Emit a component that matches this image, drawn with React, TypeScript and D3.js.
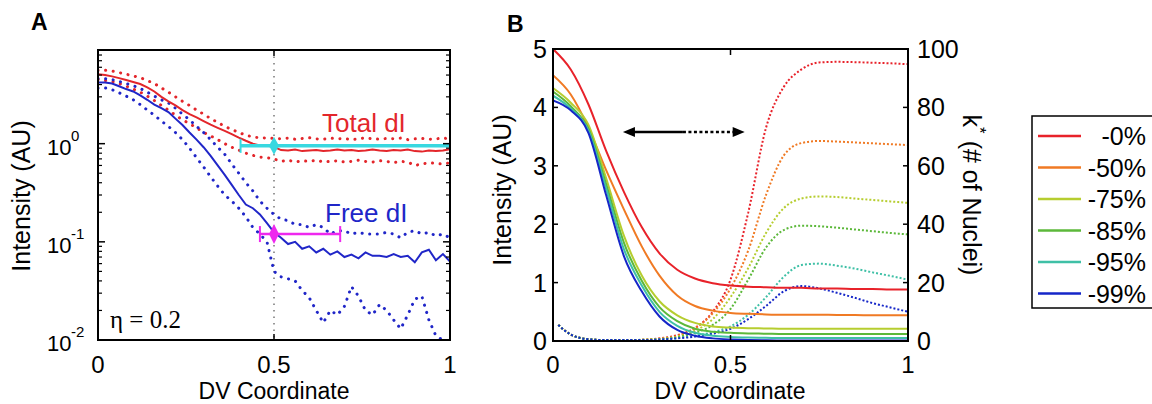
import React from "react";
import * as d3 from "d3";

// ---------- Panel A data (log intensity vs DV coordinate) ----------
const A_X = d3.range(0, 51).map((i) => i / 50);

const totalMean = [
  5.1, 5.0, 4.85, 4.65, 4.45, 4.25, 4.05, 3.75, 3.4, 3.0, 2.7, 2.45, 2.2, 2.0, 1.85, 1.7,
  1.56, 1.45, 1.35, 1.25, 1.15, 1.07, 1.0, 0.96, 0.95, 0.93, 0.86, 0.85, 0.87, 0.84, 0.85,
  0.86, 0.84, 0.85, 0.87, 0.85, 0.86, 0.84, 0.85, 0.87, 0.85, 0.84, 0.86, 0.85, 0.87, 0.84,
  0.83, 0.85, 0.84, 0.85, 0.88,
];
const totalHigh = [
  5.6, 5.6, 5.5, 5.3, 5.1, 4.9, 4.7, 4.4, 4.1, 3.7, 3.35, 3.0, 2.7, 2.45, 2.2, 2.0, 1.8,
  1.65, 1.5, 1.4, 1.3, 1.22, 1.17, 1.15, 1.14, 1.13, 1.12, 1.14, 1.11, 1.13, 1.15, 1.12,
  1.11, 1.14, 1.12, 1.13, 1.1, 1.12, 1.15, 1.12, 1.11, 1.13, 1.12, 1.14, 1.1, 1.12, 1.13,
  1.11, 1.12, 1.14, 1.12,
];
const totalLow = [
  4.5, 4.4, 4.3, 4.1, 3.85, 3.6, 3.35, 3.05, 2.75, 2.45, 2.2, 1.95, 1.75, 1.6, 1.45, 1.3,
  1.2, 1.1, 1.0, 0.92, 0.86, 0.8, 0.76, 0.73, 0.72, 0.7, 0.66, 0.68, 0.65, 0.67, 0.66,
  0.68, 0.65, 0.66, 0.67, 0.65, 0.66, 0.68, 0.66, 0.65, 0.67, 0.66, 0.64, 0.66, 0.65, 0.6,
  0.62, 0.64, 0.63, 0.62, 0.64,
];
const freeMean = [
  4.2, 4.2, 4.1, 3.85, 3.6, 3.4, 3.1, 2.8, 2.5, 2.3, 2.1, 1.8, 1.55, 1.3, 1.1, 0.92, 0.75,
  0.6, 0.48, 0.38, 0.3, 0.24, 0.22, 0.19, 0.155, 0.125, 0.11, 0.095, 0.1, 0.085, 0.09,
  0.078, 0.085, 0.074, 0.08, 0.07, 0.074, 0.068, 0.078, 0.072, 0.072, 0.07, 0.075, 0.07,
  0.072, 0.062, 0.078, 0.083, 0.065, 0.075, 0.063,
];
const freeHigh = [
  4.6, 4.6, 4.5, 4.3, 4.1, 3.9, 3.65, 3.35, 3.05, 2.8, 2.6, 2.3, 2.0, 1.75, 1.5, 1.3, 1.1,
  0.92, 0.78, 0.62, 0.5, 0.4, 0.33, 0.26, 0.22, 0.19, 0.17, 0.165, 0.15, 0.15, 0.14, 0.15,
  0.14, 0.12, 0.13, 0.13, 0.12, 0.125, 0.12, 0.12, 0.12, 0.125, 0.12, 0.11, 0.125, 0.13,
  0.12, 0.125, 0.115, 0.12, 0.11,
];
const freeLow = [
  3.7, 3.7, 3.55, 3.3, 3.05, 2.8, 2.5, 2.2, 1.95, 1.7, 1.5, 1.3, 1.1, 0.9, 0.72, 0.58,
  0.46, 0.37, 0.3, 0.26, 0.22, 0.18, 0.14, 0.12, 0.1, 0.05, 0.044, 0.042, 0.04, 0.032,
  0.027, 0.02, 0.015, 0.02, 0.018, 0.022, 0.035, 0.028, 0.02, 0.018, 0.023, 0.02, 0.016,
  0.013, 0.018, 0.026, 0.028, 0.016, 0.011, 0.01, 0.009,
];
// error bars: [xMin, xMid, xMax, y]
const totalBar = [0.405, 0.5, 1.0, 0.95];
const freeBar = [0.46, 0.5, 0.688, 0.12];
const A_YTICKS = [0.01, 0.1, 1];
const A_YEXP = ["-2", "-1", "0"];

// ---------- Panel B data ----------
const B_X = d3.range(0, 21).map((i) => i / 20);
const K_X = [0.015, ...d3.range(1, 21).map((i) => i / 20)];
const labels = ["-0%", "-50%", "-75%", "-85%", "-95%", "-99%"];
const colors = ["#e8222a", "#f07a24", "#b6cd2f", "#5cb83a", "#3fc0a6", "#1526c8"];

const intensity = [
  [5.0, 4.65, 4.05, 3.25, 2.55, 1.95, 1.5, 1.22, 1.07, 0.99, 0.95, 0.93, 0.92, 0.91, 0.91, 0.9, 0.9, 0.89, 0.89, 0.88, 0.88],
  [4.55, 4.22, 3.65, 2.92, 2.25, 1.62, 1.12, 0.78, 0.6, 0.52, 0.48, 0.465, 0.455, 0.45, 0.45, 0.45, 0.445, 0.445, 0.44, 0.44, 0.44],
  [4.33, 4.08, 3.7, 2.78, 1.8, 1.12, 0.68, 0.44, 0.31, 0.25, 0.23, 0.22, 0.215, 0.21, 0.21, 0.21, 0.21, 0.21, 0.21, 0.21, 0.21],
  [4.27, 4.02, 3.63, 2.68, 1.68, 1.03, 0.58, 0.34, 0.21, 0.16, 0.14, 0.13, 0.125, 0.12, 0.12, 0.12, 0.12, 0.12, 0.12, 0.12, 0.12],
  [4.2, 3.98, 3.6, 2.6, 1.57, 0.95, 0.5, 0.26, 0.14, 0.09, 0.07, 0.06, 0.055, 0.05, 0.05, 0.05, 0.05, 0.05, 0.05, 0.05, 0.05],
  [4.12, 3.95, 3.56, 2.49, 1.45, 0.85, 0.42, 0.19, 0.09, 0.045, 0.025, 0.015, 0.012, 0.01, 0.01, 0.01, 0.01, 0.01, 0.01, 0.01, 0.01],
];
const kStar = [
  [5.5, 2.2, 0.6, 0.3, 0.3, 0.4, 0.9, 2, 4.5, 10, 21, 44, 73, 87, 93, 95.4, 95.6, 95.5, 95.3, 95.1, 94.8],
  [5.5, 2.2, 0.6, 0.3, 0.3, 0.4, 0.8, 1.7, 4.3, 9.5, 18, 31, 50, 63.5, 67.8, 68.5, 68.3, 68, 67.7, 67.4, 67.1],
  [5.5, 2.2, 0.6, 0.3, 0.3, 0.4, 0.7, 1.5, 3.5, 7.5, 15, 25, 37, 45.5, 48.8, 49.5, 49.3, 48.8, 48.3, 47.8, 47.3],
  [5.5, 2.2, 0.6, 0.3, 0.3, 0.4, 0.6, 1.3, 2.8, 5.5, 11, 21, 32, 38, 39.5, 39.3, 38.8, 38.2, 37.6, 37, 36.5],
  [5.5, 2.2, 0.6, 0.3, 0.3, 0.3, 0.5, 1, 1.8, 3, 5, 9, 15, 22, 26, 26.5, 25.8, 24.8, 23.5, 22.3, 21],
  [5.5, 2.2, 0.6, 0.3, 0.3, 0.3, 0.5, 0.9, 1.5, 2.5, 4.2, 7.5, 12, 17, 18.8, 18, 16.5, 14.8, 13, 11.5, 10],
];
// arrow: [xStart, xSplit, xEnd, yLevel] in panel B data units
const arrowSpec = [0.197, 0.366, 0.54, 3.58];

const FONT = "'Liberation Sans', Arial, Helvetica, sans-serif";
const X_TICKS = [0, 0.5, 1];

export default function App() {
  // panel A scales
  const ax = d3.scaleLinear().domain([0, 1]).range([98, 450]);
  const ay = d3.scaleLog().domain([0.01, 9]).range([340, 50]);
  // panel B scales
  const bx = d3.scaleLinear().domain([0, 1]).range([553, 908]);
  const by = d3.scaleLinear().domain([0, 5]).range([341, 49]);
  const bk = d3.scaleLinear().domain([0, 100]).range([341, 49]);

  const lineA = (ys: number[]) =>
    d3
      .line<number>()
      .defined((d) => d > 0)
      .x((_, i) => ax(A_X[i]))
      .y((d) => ay(d))(ys) || "";
  const lineB = (ys: number[]) =>
    d3
      .line<number>()
      .curve(d3.curveMonotoneX)
      .x((_, i) => bx(B_X[i]))
      .y((d) => by(d))(ys) || "";
  const lineK = (ys: number[]) =>
    d3
      .line<number>()
      .curve(d3.curveMonotoneX)
      .x((_, i) => bx(K_X[i]))
      .y((d) => bk(d))(ys) || "";

  const [ax0, ax1] = ax.range();
  const [ayB, ayT] = ay.range();
  const [bx0, bx1] = bx.range();
  const [byB, byT] = by.range();

  // minor log ticks
  const minor: number[] = [];
  [0.01, 0.1, 1].forEach((d) => {
    for (let k = 2; k <= 9; k++) if (d * k <= 9) minor.push(d * k);
  });

  const errBar = (b: number[], color: string, w: number, cap: number, dh: number) => {
    const [x0, xm, x1, yv] = b;
    const y = ay(yv);
    return (
      <g stroke={color} fill={color}>
        <line x1={ax(x0)} x2={ax(x1)} y1={y} y2={y} strokeWidth={w} />
        <line x1={ax(x0)} x2={ax(x0)} y1={y - cap} y2={y + cap} strokeWidth={2} />
        <line x1={ax(x1)} x2={ax(x1)} y1={y - cap} y2={y + cap} strokeWidth={2} />
        <path
          d={`M${ax(xm)},${y - dh} L${ax(xm) + 5},${y} L${ax(xm)},${y + dh} L${ax(xm) - 5},${y} Z`}
          stroke="none"
        />
      </g>
    );
  };

  const dotted = { strokeWidth: 3, strokeDasharray: "0.1 7.5", strokeLinecap: "round" as const };

  const [ar0, arM, ar1, arY] = arrowSpec;
  const ay0 = by(arY);

  return (
    <svg
      width={1152}
      height={404}
      style={{ position: "absolute", left: 0, top: 0, background: "#fff" }}
      fontFamily={FONT}
    >
      <defs>
        <clipPath id="clipA">
          <rect x={ax0} y={ayT} width={ax1 - ax0} height={ayB - ayT} />
        </clipPath>
        <clipPath id="clipB">
          <rect x={bx0} y={byT} width={bx1 - bx0} height={byB - byT} />
        </clipPath>
      </defs>
      <rect width={1152} height={404} fill="#fff" />

      {/* ================= Panel A ================= */}
      <text x={31} y={30} fontSize={23} fontWeight="bold">A</text>
      <line x1={ax(0.5)} x2={ax(0.5)} y1={ayT} y2={ayB} stroke="#777" strokeWidth={1.5} strokeDasharray="1.5 5" />
      <g clipPath="url(#clipA)" fill="none">
        <path d={lineA(totalHigh)} stroke="#e3262b" {...dotted} />
        <path d={lineA(totalLow)} stroke="#e3262b" {...dotted} />
        <path d={lineA(freeHigh)} stroke="#2026c8" {...dotted} />
        <path d={lineA(freeLow)} stroke="#2026c8" {...dotted} />
        <path d={lineA(totalMean)} stroke="#e3262b" strokeWidth={2} />
        <path d={lineA(freeMean)} stroke="#2026c8" strokeWidth={2} />
      </g>
      {errBar(totalBar, "#38d8e0", 3.5, 7, 9)}
      {errBar(freeBar, "#ee28ee", 2.5, 8, 10)}

      <text x={322} y={132} fontSize={26} fill="#e3262b">Total dI</text>
      <text x={325} y={222} fontSize={26} fill="#2026c8">Free dI</text>
      <text x={110} y={328} fontSize={25} fontFamily="'Liberation Serif', 'Times New Roman', serif">η = 0.2</text>

      {/* axes box A */}
      <rect x={ax0} y={ayT} width={ax1 - ax0} height={ayB - ayT} fill="none" stroke="#000" strokeWidth={2} />
      {A_YTICKS.map((t) => (
        <g key={t}>
          <line x1={ax0} x2={ax0 + 7} y1={ay(t)} y2={ay(t)} stroke="#000" strokeWidth={1.5} />
          <line x1={ax1} x2={ax1 - 7} y1={ay(t)} y2={ay(t)} stroke="#000" strokeWidth={1.5} />
        </g>
      ))}
      {minor.map((t) => (
        <g key={t}>
          <line x1={ax0} x2={ax0 + 4} y1={ay(t)} y2={ay(t)} stroke="#000" strokeWidth={1.2} />
          <line x1={ax1} x2={ax1 - 4} y1={ay(t)} y2={ay(t)} stroke="#000" strokeWidth={1.2} />
        </g>
      ))}
      {X_TICKS.map((t) => (
        <g key={t}>
          <line x1={ax(t)} x2={ax(t)} y1={ayB} y2={ayB - 6} stroke="#000" strokeWidth={1.5} />
          <line x1={ax(t)} x2={ax(t)} y1={ayT} y2={ayT + 6} stroke="#000" strokeWidth={1.5} />
          <text x={ax(t)} y={373} fontSize={24} textAnchor="middle">{t}</text>
        </g>
      ))}
      {A_YTICKS.map((t, i) => (
        <g key={"l" + t}>
          <text x={47} y={ay(t) + 11} fontSize={22}>10</text>
          <text x={71} y={ay(t) - 3} fontSize={15}>{A_YEXP[i]}</text>
        </g>
      ))}
      <text x={274} y={399} fontSize={23} textAnchor="middle">DV Coordinate</text>
      <text transform={`translate(30,196) rotate(-90)`} fontSize={25} textAnchor="middle">Intensity (AU)</text>

      {/* ================= Panel B ================= */}
      <text x={507} y={32} fontSize={23} fontWeight="bold">B</text>
      <g clipPath="url(#clipB)" fill="none">
        {kStar.map((ks, i) => (
          <path key={"k" + i} d={lineK(ks)} stroke={colors[i]} strokeWidth={2} strokeDasharray="2 2" />
        ))}
        {intensity.map((vs, i) => (
          <path key={"s" + i} d={lineB(vs)} stroke={colors[i]} strokeWidth={2} />
        ))}
      </g>

      {/* double arrow */}
      <g stroke="#000" strokeWidth={2.5}>
        <line x1={bx(ar0) + 8} x2={bx(arM)} y1={ay0} y2={ay0} />
        <line x1={bx(arM)} x2={bx(ar1) - 8} y1={ay0} y2={ay0} strokeDasharray="3 2.5" />
      </g>
      <path d={`M${bx(ar0)},${ay0} l12,-5 l0,10 Z`} fill="#000" />
      <path d={`M${bx(ar1)},${ay0} l-12,-5 l0,10 Z`} fill="#000" />

      <rect x={bx0} y={byT} width={bx1 - bx0} height={byB - byT} fill="none" stroke="#000" strokeWidth={2} />
      {by.ticks(5).map((t) => (
        <g key={"by" + t}>
          <line x1={bx0} x2={bx0 + 5} y1={by(t)} y2={by(t)} stroke="#000" strokeWidth={1.5} />
          <text x={547} y={by(t) + 9} fontSize={25} textAnchor="end">{t}</text>
        </g>
      ))}
      {bk.ticks(5).map((t) => (
        <g key={"bk" + t}>
          <line x1={bx1} x2={bx1 - 5} y1={bk(t)} y2={bk(t)} stroke="#000" strokeWidth={1.5} />
          <text x={917} y={bk(t) + 9} fontSize={25}>{t}</text>
        </g>
      ))}
      {X_TICKS.map((t) => (
        <g key={"bx" + t}>
          <line x1={bx(t)} x2={bx(t)} y1={byB} y2={byB - 6} stroke="#000" strokeWidth={1.5} />
          <line x1={bx(t)} x2={bx(t)} y1={byT} y2={byT + 6} stroke="#000" strokeWidth={1.5} />
          <text x={bx(t)} y={373} fontSize={24} textAnchor="middle">{t}</text>
        </g>
      ))}
      <text x={730} y={399} fontSize={23} textAnchor="middle">DV Coordinate</text>
      <text transform={`translate(511,190) rotate(-90)`} fontSize={25} textAnchor="middle">Intensity (AU)</text>
      <text transform={`translate(963,195) rotate(90)`} fontSize={25} textAnchor="middle">
        k<tspan fontSize={17} dy={-11}>*</tspan>
        <tspan dy={11}> (# of Nuclei)</tspan>
      </text>

      {/* legend */}
      <rect x={1032} y={116} width={140} height={192} fill="#fff" stroke="#000" strokeWidth={1.5} />
      {labels.map((l, i) => {
        const y = 136 + i * 31.5;
        return (
          <g key={l}>
            <line x1={1038} x2={1081} y1={y} y2={y} stroke={colors[i]} strokeWidth={2.5} />
            <text x={1146} y={y + 9} fontSize={25} textAnchor="end">{l}</text>
          </g>
        );
      })}
    </svg>
  );
}
